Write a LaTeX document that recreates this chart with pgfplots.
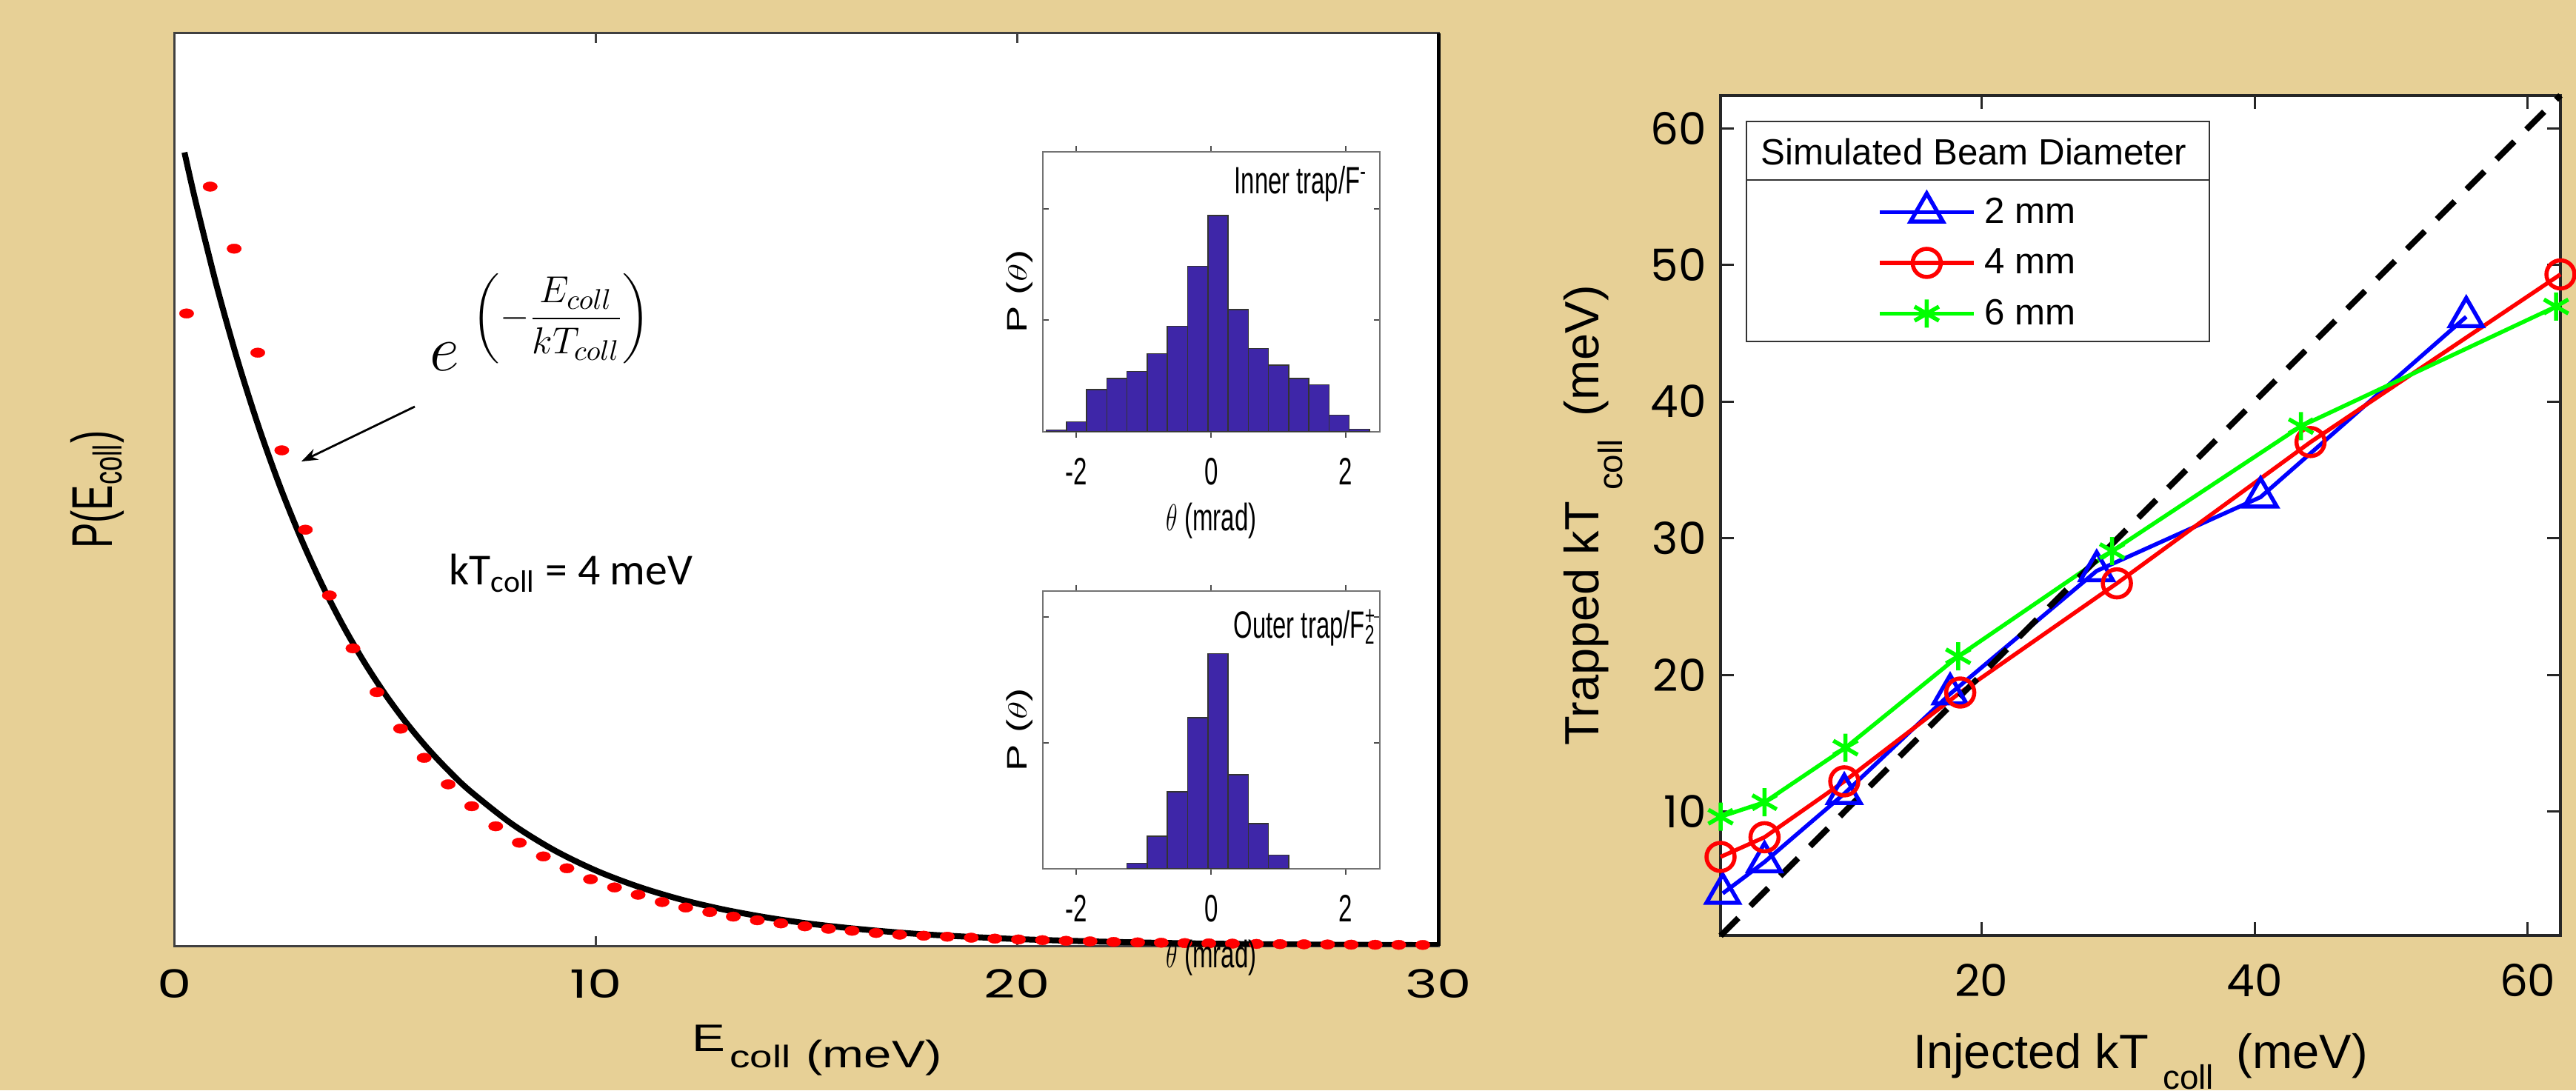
\documentclass[border=0pt]{standalone}
\usepackage{amsmath}
\usepackage{fontspec}
\setmainfont{Liberation Sans}
\newfontfamily\tickfont{Poppins}
\newfontfamily\calfont{Carlito}
\usepackage{pgfplots}
\pgfplotsset{compat=1.18}
\usetikzlibrary{arrows.meta}

\definecolor{parch}{RGB}{231,208,150}
\definecolor{histblue}{RGB}{62,38,168}

\pgfplotsset{
  inset/.style={
    anchor=south west, scale only axis, width=45.46mm,
    xmin=-2.5, xmax=2.5, ymin=0,
    axis line style={black!55, line width=0.2mm},
    tick style={black!70, line width=0.2mm},
    tick align=inside, major tick length=0.8mm,
    xtick={-2,0,2},
    xticklabels={\scalebox{0.64}[1]{-2},\scalebox{0.64}[1]{0},\scalebox{0.64}[1]{2}},
    ytick={1,2}, yticklabels={},
    xticklabel style={font=\fontsize{14.7pt}{17pt}\selectfont, yshift=-1.5mm},
    xlabel={\scalebox{0.64}[1]{$\theta$ (mrad)}},
    xlabel style={at={(axis description cs:0.5,-0.32)}, anchor=center, font=\fontsize{14.7pt}{17pt}\selectfont},
    ylabel={\scalebox{1}[0.7]{P ($\theta$)}},
    ylabel style={at={(axis description cs:-0.069,0.5)}, anchor=center, font=\fontsize{15.5pt}{18pt}\selectfont},
    ybar, bar width=0.3,
  },
}

\begin{document}
\begin{tikzpicture}
\fill[parch] (0,0) rectangle (347.8mm,147.2mm);

% left panel: energy distribution
\begin{axis}[
  at={(23.6mm,19.5mm)}, anchor=south west, scale only axis,
  width=170.6mm, height=123.2mm,
  xmin=0, xmax=30, ymin=0, ymax=1,
  axis background/.style={fill=white},
  axis line style={black!75, line width=0.3mm},
  xtick={0,10,20,30},
  xticklabels={\scalebox{1.4}[1]{0},\scalebox{1.4}[1]{10},\scalebox{1.4}[1]{20},\scalebox{1.4}[1]{30}},
  ytick=\empty,
  tick align=inside, major tick length=1.3mm,
  tick style={black!75, line width=0.25mm},
  xticklabel style={font=\tickfont\fontsize{15pt}{18pt}\selectfont, yshift=-1.9mm},
  xlabel={\scalebox{1.3}[1]{E\hspace{0.5mm}\raisebox{-2.2mm}{\fontsize{12pt}{14pt}\selectfont coll}\hspace{1.6mm}\raisebox{-2.2mm}{(meV)}}},
  xlabel style={at={(axis description cs:0.402,-0.116)}, anchor=base west, font=\fontsize{14.7pt}{17pt}\selectfont},
  ylabel={\scalebox{1}[1.5]{P(E\textsubscript{coll})}},
  ylabel style={at={(axis description cs:-0.0498,0.5)}, anchor=base, font=\fontsize{14.7pt}{17pt}\selectfont},
]
\addplot[black, line width=0.8mm, smooth] coordinates {
  (0.23,0.8695) (0.5,0.8147) (1,0.7222) (1.5,0.6403) (2,0.5676) (2.5,0.5032)
  (3,0.4461) (3.5,0.3954) (4,0.3505) (4.5,0.3107) (5,0.2754) (5.5,0.2442)
  (6,0.2165) (6.5,0.1920) (7,0.1701) (8,0.1337) (9,0.1050) (10,0.0825)
  (11,0.0649) (12,0.0510) (13,0.0401) (14,0.0315) (15,0.0247) (16,0.0195)
  (17,0.0153) (18,0.0120) (20,0.0074) (22,0.0046) (24,0.0028) (26,0.0017)
  (28,0.0011) (30,0.0007)
};
\addplot[only marks, mark=*, mark size=1.85pt, mark options={fill=red, draw=red, line width=0.1pt, xscale=1.5}] coordinates {
  (0.28,0.693) (0.84,0.832) (1.41,0.764) (1.97,0.650) (2.54,0.543) (3.10,0.456)
  (3.67,0.384) (4.23,0.326) (4.80,0.278) (5.36,0.238) (5.92,0.206) (6.49,0.177)
  (7.05,0.153) (7.62,0.131) (8.18,0.113) (8.75,0.098) (9.31,0.085) (9.87,0.073)
  (10.44,0.064) (11.00,0.056) (11.57,0.048) (12.13,0.042) (12.70,0.037) (13.26,0.032)
  (13.83,0.028) (14.39,0.0246) (14.96,0.0214) (15.52,0.0187) (16.08,0.0165) (16.65,0.0141)
  (17.21,0.0122) (17.78,0.0111) (18.34,0.0100) (18.91,0.0089) (19.47,0.0079) (20.03,0.0070)
  (20.60,0.0062) (21.16,0.0055) (21.73,0.0049) (22.29,0.0043) (22.86,0.0038) (23.42,0.0034)
  (23.98,0.0030) (24.55,0.0027) (25.11,0.0024) (25.68,0.0021) (26.24,0.0019) (26.81,0.0017)
  (27.37,0.0015) (27.93,0.0013) (28.50,0.0012) (29.06,0.0011) (29.63,0.0010)
};
\end{axis}
\draw[black, line width=0.5mm] (194.2mm,19.5mm) -- (194.2mm,142.7mm);

% inset: inner trap
\begin{axis}[inset, at={(140.8mm,88.93mm)}, height=37.77mm, ymax=2.51]
\addplot[fill=histblue, draw=black!80, line width=0.15mm] coordinates {
  (-2.3,0.015) (-2.0,0.088) (-1.7,0.376) (-1.4,0.478) (-1.1,0.541) (-0.8,0.698)
  (-0.5,0.946) (-0.2,1.483) (0.1,1.937) (0.4,1.093) (0.7,0.746) (1.0,0.595)
  (1.3,0.478) (1.6,0.420) (1.9,0.146) (2.2,0.020)
};
\end{axis}

% inset: outer trap
\begin{axis}[inset, at={(140.8mm,29.9mm)}, height=37.54mm, ymax=2.207]
\addplot[fill=histblue, draw=black!80, line width=0.15mm] coordinates {
  (-1.1,0.043) (-0.8,0.259) (-0.5,0.612) (-0.2,1.198) (0.1,1.707) (0.4,0.746)
  (0.7,0.358) (1.0,0.108)
};
\end{axis}

% right panel: trapped vs injected
\begin{axis}[
  at={(232.3mm,20.86mm)}, anchor=south west, scale only axis,
  width=113.4mm, height=113.46mm,
  xmin=0.9, xmax=62.4, ymin=0.9, ymax=62.4,
  clip=false,
  axis background/.style={fill=white},
  axis line style={black!85, line width=0.4mm},
  tick style={black!85, line width=0.3mm},
  tick align=inside, major tick length=1.8mm,
  xtick={20,40,60}, xticklabels={20,40,60},
  ytick={10,20,30,40,50,60}, yticklabels={10,20,30,40,50,60},
  ticklabel style={font=\tickfont\fontsize{17pt}{20pt}\selectfont},
  xticklabel style={yshift=-2.6mm},
  yticklabel style={xshift=-0.7mm},
  xlabel={Injected kT\hspace{1.9mm}\raisebox{-2.8mm}{\fontsize{13pt}{15pt}\selectfont coll}\hspace{3.1mm}(meV)},
  xlabel style={at={(axis description cs:0.5,-0.158)}, anchor=base, font=\fontsize{18.5pt}{21pt}\selectfont},
  ylabel={Trapped kT\hspace{1.5mm}\raisebox{-3.2mm}{\fontsize{13pt}{15pt}\selectfont coll}\hspace{3.1mm}(meV)},
  ylabel style={at={(axis description cs:-0.1455,0.5)}, anchor=base, font=\fontsize{18.5pt}{21pt}\selectfont},
  legend style={draw=none, fill=none, at={(0.305,0.803)}, anchor=center,
    font=\fontsize{14pt}{16pt}\selectfont, row sep=2.85mm,
    nodes={inner sep=0pt, text height=3.5mm, text depth=0.5mm},
    /tikz/every odd column/.append style={column sep=1.2mm}},
  legend cell align=left,
  legend image code/.code={\draw[mark repeat=2, mark phase=2, #1] plot coordinates {(0mm,0mm) (6.35mm,0mm) (12.7mm,0mm)};},
]
\addplot[blue, line width=0.55mm, mark=triangle, mark size=7.2pt, mark options={solid, line width=0.55mm}] coordinates {
  (1.06,4.0) (4.12,6.3) (9.96,11.3) (17.71,18.6) (28.44,27.6) (40.44,33.0) (55.5,46.2)
};
\addlegendentry{2 mm}
\addplot[red, line width=0.55mm, mark=o, mark size=5.4pt, mark options={solid, line width=0.55mm}] coordinates {
  (0.9,6.67) (4.12,8.11) (9.96,12.2) (18.45,18.7) (29.92,26.69) (44.1,37.03) (62.4,49.3)
};
\addlegendentry{4 mm}
\addplot[green, line width=0.55mm, mark=asterisk, mark size=5.4pt, mark options={solid, line width=0.55mm}] coordinates {
  (0.9,9.61) (4.12,10.67) (10.05,14.66) (18.3,21.35) (29.57,29.05) (43.4,38.19) (62.08,46.95)
};
\addlegendentry{6 mm}
\addplot[black, line width=0.8mm, dash pattern=on 3.4mm off 2.3mm, forget plot] coordinates {
  (0.9,0.9) (62.4,62.4)
};
\end{axis}

% annotations, left panel
\node[anchor=base west, inner sep=0pt, font=\fontsize{32pt}{38pt}\selectfont] at (58.0mm,97.1mm) {$e$};
\node[inner sep=0pt, font=\fontsize{15.5pt}{19pt}\selectfont] at (75.8mm,104.2mm) {$\left(-\dfrac{E_{coll}}{kT_{coll}}\right)$};
\draw[-{Stealth[length=2.2mm,width=1.6mm]}, line width=0.28mm] (56.0mm,92.3mm) -- (40.7mm,84.9mm);
\node[anchor=base west, inner sep=0pt, font=\calfont\fontsize{17pt}{20pt}\selectfont] at (60.6mm,68.2mm) {kT\textsubscript{coll} = 4 meV};
\node[anchor=base west, inner sep=0pt, font=\fontsize{14.6pt}{17pt}\selectfont] at (166.6mm,121.0mm) {\scalebox{0.64}[1]{Inner trap/F\textsuperscript{-}}};
\node[anchor=base west, inner sep=0pt, font=\fontsize{14.6pt}{17pt}\selectfont] at (166.5mm,61.0mm) {\scalebox{0.64}[1]{Outer trap/F\rlap{\textsuperscript{+}}\textsubscript{2}}};

% legend frame and title, right panel
\draw[black!80, line width=0.25mm] (235.8mm,130.8mm) rectangle (298.3mm,101.1mm);
\draw[black!80, line width=0.25mm] (235.8mm,122.9mm) -- (298.3mm,122.9mm);
\node[anchor=base, font=\fontsize{14pt}{16pt}\selectfont] at (266.5mm,124.9mm) {Simulated Beam Diameter};

\pgfresetboundingbox
\path[use as bounding box] (0,0) rectangle (347.8mm,147.2mm);
\end{tikzpicture}
\end{document}
